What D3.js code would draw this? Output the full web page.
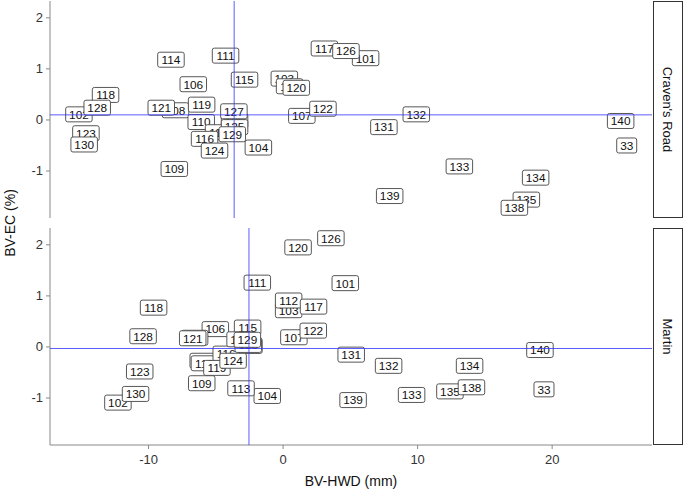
<!DOCTYPE html>
<html>
<head>
<meta charset="utf-8">
<script src="https://cdn.jsdelivr.net/npm/d3@7"></script>
<style>
  body { margin: 0; background: #fff; }
  svg { font-family: "Liberation Sans", Arial, sans-serif; }
</style>
</head>
<body>
<div id="chart"></div>
<script>
const facets = ["Craven's Road", "Martin"];

const ids = ["33", "101", "102", "103", "104", "105", "106", "107", "108", "109",
  "110", "111", "112", "113", "114", "115", "116", "117", "118", "119",
  "120", "121", "122", "123", "124", "125", "126", "127", "128", "129",
  "130", "131", "132", "133", "134", "135", "138", "139", "140"];

// Craven's Road
const cravensHWD = [25.58, 6.17, -15.14, 0.13, -1.8, -3.57, -6.64, 1.43, -7.96, -8.05,
  -6.05, -4.24, 0.52, -4.76, -8.3, -2.83, -5.8, 3.11, -13.16, -6.02,
  1.02, -9.02, 3.0, -14.62, -5.06, -3.57, 4.71, -3.62, -13.78, -3.74,
  -14.75, 7.53, 9.94, 13.14, 18.81, 18.12, 17.23, 7.96, 25.13];
const cravensEC = [-0.51, 1.2, 0.1, 0.8, -0.55, -0.03, 0.69, 0.07, 0.18, -0.97,
  -0.05, 1.25, 0.65, -0.25, 1.17, 0.78, -0.38, 1.39, 0.48, 0.29,
  0.62, 0.23, 0.21, -0.27, -0.61, -0.15, 1.34, 0.16, 0.23, -0.29,
  -0.49, -0.15, 0.1, -0.92, -1.14, -1.57, -1.73, -1.5, -0.03];

// Martin
const martinHWD = [19.43, 4.66, -12.24, 0.45, -1.14, -5.9, -5.0, 0.84, -6.54, -6.01,
  -5.81, -1.88, 0.45, -3.09, -2.5, -2.6, -4.19, 2.3, -9.59, -4.88,
  1.15, -6.68, 2.28, -10.62, -3.68, -2.55, 3.59, -3.16, -10.37, -2.62,
  -10.93, 5.1, 7.88, 9.59, 13.9, 12.44, 14.04, 5.24, 19.13];
const martinEC = [-0.84, 1.24, -1.1, 0.71, -0.97, -0.28, 0.34, 0.18, 0.17, -0.72,
  -0.33, 1.25, 0.9, -0.82, 0.01, 0.37, -0.14, 0.78, 0.76, -0.42,
  1.94, 0.16, 0.31, -0.49, -0.28, 0.03, 2.12, 0.14, 0.2, 0.13,
  -0.93, -0.16, -0.38, -0.95, -0.38, -0.88, -0.8, -1.05, -0.07];

const meanHWD = [-3.6, -2.5];
const meanEC = [0.09, -0.04];

const xTicks = [-10, 0, 10, 20];
const yTicks = [-1, 0, 1, 2];

const panels = [
  { name: facets[0], xs: cravensHWD, ys: cravensEC, mx: meanHWD[0], my: meanEC[0] },
  { name: facets[1], xs: martinHWD, ys: martinEC, mx: meanHWD[1], my: meanEC[1] },
];

const width = 685, height = 493;
const left = 50, right = 652, panelH = 217;
const panelTops = [1, 228];
const fmt = d => String(d); // plain hyphen minus like the original

const svg = d3.select("#chart").append("svg")
  .attr("width", width).attr("height", height);

const x = d3.scaleLinear().domain([-17.29, 27.46]).range([left, right]);
const y = d3.scaleLinear().domain([-1.93, 2.32]).range([panelH, 0]);

panels.forEach((p, i) => {
  const g = svg.append("g").attr("transform", `translate(0, ${panelTops[i]})`);

  // y axis
  const ya = g.append("g").attr("transform", `translate(${left}, 0)`)
    .call(d3.axisLeft(y).tickValues(yTicks).tickSize(4).tickPadding(3).tickFormat(fmt));
  ya.select(".domain").attr("stroke", "#888").attr("d", `M0,0V${panelH}`);
  ya.selectAll(".tick line").attr("stroke", "#888");
  ya.selectAll(".tick text").attr("font-size", 13).attr("fill", "#333")
    .attr("font-family", "Liberation Sans, Arial, sans-serif");

  // x axis only under last panel
  if (i === panels.length - 1) {
    const xa = g.append("g").attr("transform", `translate(0, ${panelH})`)
      .call(d3.axisBottom(x).tickValues(xTicks).tickSize(4).tickPadding(6).tickFormat(fmt));
    xa.select(".domain").attr("stroke", "#888").attr("d", `M${left},0H${right}`);
    xa.selectAll(".tick line").attr("stroke", "#888");
    xa.selectAll(".tick text").attr("font-size", 13).attr("fill", "#333")
      .attr("font-family", "Liberation Sans, Arial, sans-serif");
  }

  // labels
  const pts = ids.map((id, k) => ({ id, x: p.xs[k], y: p.ys[k] }));
  const lab = g.selectAll(".lab").data(pts).join("g")
    .attr("class", "lab")
    .attr("transform", d => `translate(${x(d.x)}, ${y(d.y)})`);
  lab.append("rect")
    .attr("x", d => -(d.id.length * 6.5 + 7) / 2)
    .attr("y", -7.5)
    .attr("width", d => d.id.length * 6.5 + 7)
    .attr("height", 15)
    .attr("rx", 2).attr("ry", 2)
    .attr("fill", "#fff")
    .attr("stroke", "#444")
    .attr("stroke-width", 0.9);
  lab.append("text")
    .attr("text-anchor", "middle")
    .attr("dy", "0.37em")
    .attr("font-size", 11.8)
    .attr("fill", "#111")
    .text(d => d.id);

  // mean lines
  g.append("line")
    .attr("x1", x(p.mx)).attr("x2", x(p.mx))
    .attr("y1", 0).attr("y2", panelH)
    .attr("stroke", "#3333ff").attr("stroke-opacity", 0.8).attr("stroke-width", 1);
  g.append("line")
    .attr("x1", left).attr("x2", right)
    .attr("y1", y(p.my)).attr("y2", y(p.my))
    .attr("stroke", "#3333ff").attr("stroke-opacity", 0.8).attr("stroke-width", 1);

  // strip
  g.append("rect")
    .attr("x", 653.5).attr("y", 0.5)
    .attr("width", 29).attr("height", panelH - 1)
    .attr("fill", "#fff").attr("stroke", "#333").attr("stroke-width", 1);
  g.append("text")
    .attr("transform", `translate(668, ${panelH / 2}) rotate(90)`)
    .attr("text-anchor", "middle")
    .attr("dy", "0.35em")
    .attr("font-size", 13)
    .attr("fill", "#111")
    .text(p.name);
});

// axis titles
svg.append("text")
  .attr("x", (left + right) / 2).attr("y", 486)
  .attr("text-anchor", "middle")
  .attr("font-size", 14).attr("fill", "#111")
  .text("BV-HWD (mm)");
svg.append("text")
  .attr("transform", `translate(15, ${(panelTops[0] + panelTops[1] + panelH) / 2}) rotate(-90)`)
  .attr("text-anchor", "middle")
  .attr("font-size", 14).attr("fill", "#111")
  .text("BV-EC (%)");
</script>
</body>
</html>
